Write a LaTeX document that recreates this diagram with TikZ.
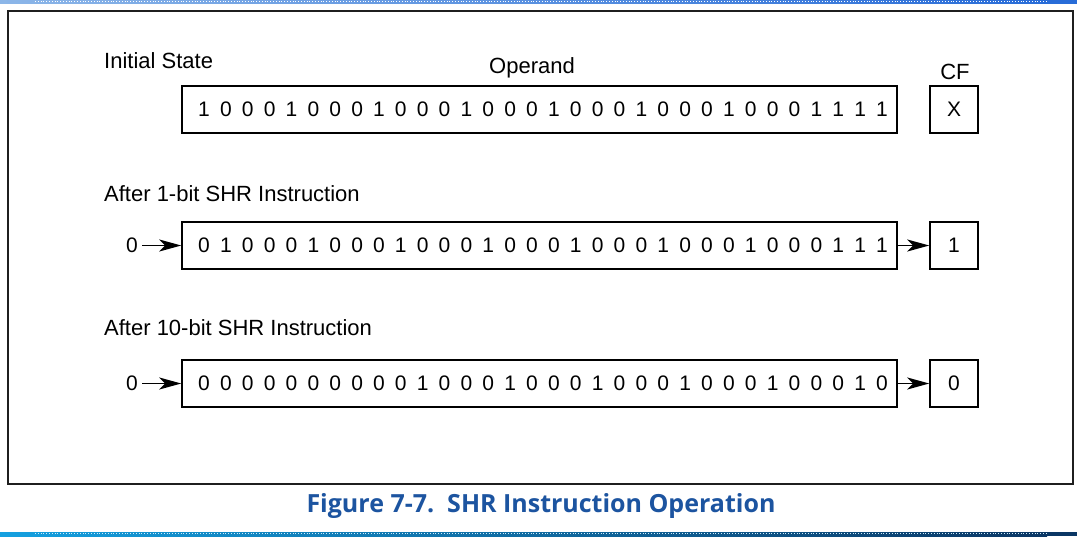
\documentclass[tikz,border=0pt]{standalone}
\usepackage{fontspec}
\setmainfont{Liberation Sans}
\newfontfamily\capfont{Open Sans}
\usetikzlibrary{arrows.meta}
\definecolor{capblue}{RGB}{28,84,160}
\definecolor{toplight}{RGB}{140,182,232}
\definecolor{topdark}{RGB}{40,108,216}
\definecolor{botlight}{RGB}{20,160,224}
\definecolor{botdark}{RGB}{10,54,100}
\begin{document}
\begin{tikzpicture}[x=1pt,y=-1pt,
  lbl/.style={anchor=west,font=\fontsize{22}{24}\selectfont,inner sep=0},
  regbox/.style={draw,line width=1.5pt,inner sep=0,minimum height=47pt},
  bit/.style={font=\fontsize{21}{22}\selectfont,inner sep=0},
  shiftarrow/.style={-{Stealth[length=22pt,width=12pt,inset=6pt]},line width=1.8pt}]
\useasboundingbox (0,0) rectangle (1077,536);
\fill[white] (0,0) rectangle (1077,536);
% page bands
\shade[left color=toplight,right color=topdark] (0,0) rectangle (1047,3.5);
\fill[topdark] (1047,0) rectangle (1077,3.5);
\draw[white,line width=0.8pt,dotted] (35,1.6) -- (1047,1.6);
\shade[left color=botlight,right color=botdark] (0,532) rectangle (1047,536);
\fill[botdark] (1047,532) rectangle (1077,536);
\draw[white!80!botlight,line width=0.8pt,dotted] (35,533.6) -- (1047,533.6);
% figure frame
\draw[line width=2.4pt,black!88] (8,11) rectangle (1073,484);
% row 1: initial state
\node[lbl] (l1) at (104,61) {Initial State};
\node[font=\fontsize{22}{24}\selectfont,inner sep=0] (opl) at (532,68) {Operand};
\node[font=\fontsize{22}{24}\selectfont,inner sep=0] (cfl) at (955,72) {CF};
\node[regbox,minimum width=715pt] (op1) at (539.5,109.5) {};
\node[regbox,minimum width=48pt] (cf1) at (954,109.5) {};
\node[bit] (c1) at (cf1) {X};
\foreach \b [count=\i from 0] in {1,0,0,0,1,0,0,0,1,0,0,0,1,0,0,0,1,0,0,0,1,0,0,0,1,0,0,0,1,1,1,1}
  \node[bit] (a\i) at (204+21.87*\i,109.5) {\b};
% row 2: after 1-bit shift
\node[lbl] (l2) at (104,194) {After 1-bit SHR Instruction};
\node[regbox,minimum width=715pt] (op2) at (539.5,245.5) {};
\node[regbox,minimum width=48pt] (cf2) at (954,245.5) {};
\node[bit] (c2) at (cf2) {1};
\node[bit] (z2) at (132,245.5) {0};
\foreach \b [count=\i from 0] in {0,1,0,0,0,1,0,0,0,1,0,0,0,1,0,0,0,1,0,0,0,1,0,0,0,1,0,0,0,1,1,1}
  \node[bit] (b\i) at (204+21.87*\i,245.5) {\b};
\draw[shiftarrow,shorten <=4pt] (z2.east) -- (op2.west);
\draw[shiftarrow] (op2.east) -- (cf2.west);
% row 3: after 10-bit shift
\node[lbl] (l3) at (104,328) {After 10-bit SHR Instruction};
\node[regbox,minimum width=715pt] (op3) at (539.5,383.5) {};
\node[regbox,minimum width=48pt] (cf3) at (954,383.5) {};
\node[bit] (c3) at (cf3) {0};
\node[bit] (z3) at (132,383.5) {0};
\foreach \b [count=\i from 0] in {0,0,0,0,0,0,0,0,0,0,1,0,0,0,1,0,0,0,1,0,0,0,1,0,0,0,1,0,0,0,1,0}
  \node[bit] (d\i) at (204+21.87*\i,383.5) {\b};
\draw[shiftarrow,shorten <=4pt] (z3.east) -- (op3.west);
\draw[shiftarrow] (op3.east) -- (cf3.west);
% caption
\node[font=\capfont\bfseries\fontsize{25}{28}\selectfont,text=capblue,inner sep=0] (cap) at (541,506) {Figure 7-7.\ \ SHR Instruction Operation};
\end{tikzpicture}
\end{document}
